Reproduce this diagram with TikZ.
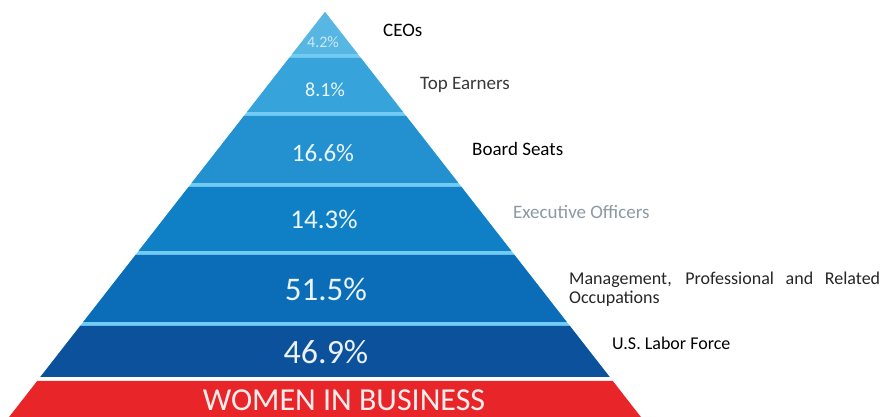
\documentclass[tikz,border=0pt]{standalone}
\usepackage{fontspec}
\setmainfont{Carlito}
\definecolor{tA}{HTML}{58B6E2}
\definecolor{tB}{HTML}{36A3DA}
\definecolor{tC}{HTML}{2391D0}
\definecolor{tD}{HTML}{0F80C6}
\definecolor{tE}{HTML}{0B6DB8}
\definecolor{tF}{HTML}{0C519C}
\definecolor{redband}{HTML}{E8262A}
\definecolor{sepblue}{HTML}{72CBF2}
\definecolor{lblgray}{HTML}{3A3A3A}
\definecolor{lbllight}{HTML}{8C9AA3}
\newcommand\tierband[3]{%
  \fill[#3] ({325-0.78*(#1-12)},{417-#1}) -- ({325+0.78*(#1-12)},{417-#1})
    -- ({325+0.78*(#2-12)},{417-#2}) -- ({325-0.78*(#2-12)},{417-#2}) -- cycle;}
\begin{document}
\begin{tikzpicture}[x=1pt,y=1pt,
  pct/.style={text=white,text opacity=0.92,inner sep=0pt},
  lbl/.style={anchor=west,inner sep=0pt,font=\fontsize{19}{19}\selectfont}]
\useasboundingbox (0,0) rectangle (889,417);
\fill[white] (0,0) rectangle (889,417);
% separator background
\tierband{12}{377}{sepblue}
% tiers
\tierband{12}{54}{tA}
\tierband{58}{112}{tB}
\tierband{116}{183}{tC}
\tierband{187}{251}{tD}
\tierband{255}{322}{tE}
\tierband{326}{377}{tF}
\tierband{381}{417}{redband}
% percentages
\node[pct,text opacity=0.7,font=\fontsize{16}{16}\selectfont] (p1) at (323,{417-42}) {4.2\%};
\node[pct,font=\fontsize{20}{20}\selectfont] (p2) at (325,{417-90}) {8.1\%};
\node[pct,font=\fontsize{25}{25}\selectfont] (p3) at (323,{417-153}) {16.6\%};
\node[pct,font=\fontsize{27}{27}\selectfont] (p4) at (324,{417-219}) {14.3\%};
\node[pct,font=\fontsize{33}{33}\selectfont] (p5) at (326,{417-289}) {51.5\%};
\node[pct,font=\fontsize{34}{34}\selectfont] (p6) at (326,{417-352}) {46.9\%};
\node[pct,font=\fontsize{32}{32}\selectfont] (wib) at (344,{417-400}) {WOMEN IN BUSINESS};
% labels
\node[lbl] (l1) at (383,{417-30}) {CEOs};
\node[lbl,text=lblgray] (l2) at (420,{417-85}) {Top Earners};
\node[lbl] (l3) at (472,{417-149}) {Board Seats};
\node[lbl,text=lbllight] (l4) at (513,{417-212}) {Executive Officers};
\node[lbl,anchor=north west,align=left,text=black!85,font=\fontsize{18}{19}\selectfont] (l5) at (569,{417-272})
  {\makebox[311pt][s]{Management, Professional and Related}\\Occupations};
\node[lbl,font=\fontsize{18}{18}\selectfont] (l6) at (612,{417-343}) {U.S. Labor Force};
\end{tikzpicture}
\end{document}
